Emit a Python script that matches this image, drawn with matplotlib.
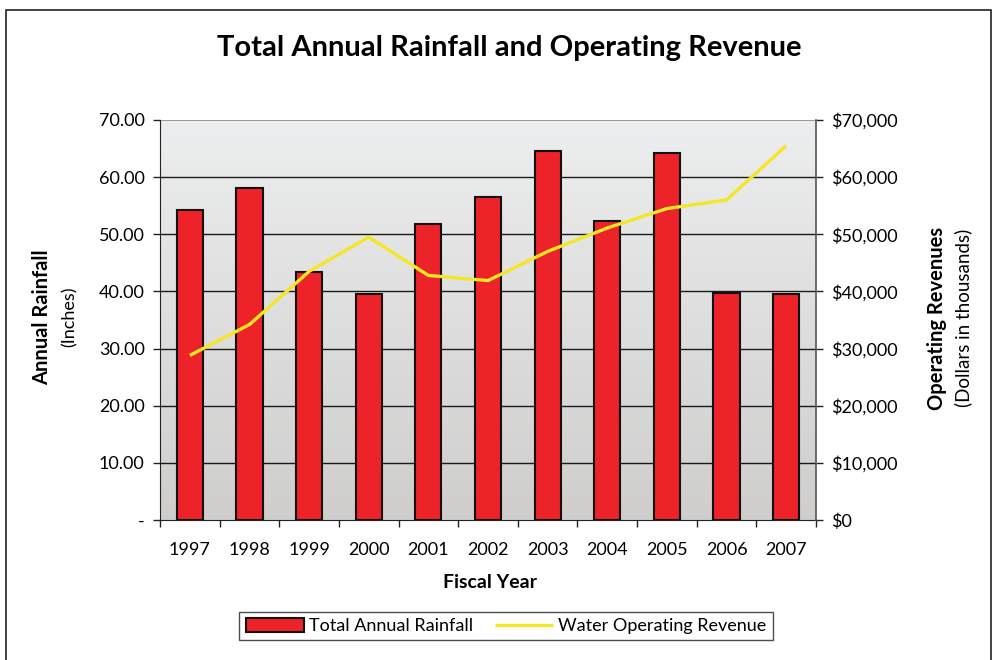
import matplotlib
matplotlib.use("Agg")
import matplotlib.pyplot as plt
from matplotlib.patches import Rectangle
from matplotlib.ticker import FuncFormatter
import numpy as np

plt.rcParams['font.family'] = ['Lato', 'DejaVu Sans']

years = ['1997', '1998', '1999', '2000', '2001', '2002', '2003', '2004', '2005', '2006', '2007']
rainfall = [54.2, 58.1, 43.4, 39.5, 51.8, 56.6, 64.6, 52.4, 64.3, 39.8, 39.5]
revenue = [28800, 34200, 43500, 49500, 42800, 41900, 47000, 51100, 54500, 56000, 65500]

fig = plt.figure(figsize=(9.97, 6.6), dpi=100)
W, H = 997, 660

# outer frame
fig.patches.append(Rectangle((6 / W, -0.05), (991 - 6) / W, (H - 10) / H + 0.05,
                             transform=fig.transFigure, fill=False,
                             edgecolor='#222222', linewidth=1.2))

ax = fig.add_axes([160 / W, (H - 520) / H, (816 - 160) / W, 400 / H])
ax.set_xlim(-0.5, len(years) - 0.5)
ax.set_ylim(0, 70)

# gradient plot background
grad = np.linspace(0, 1, 256).reshape(-1, 1)
ax.imshow(grad, aspect='auto', cmap=matplotlib.colors.LinearSegmentedColormap.from_list(
    'bg', ['#cfcecd', '#edeeef']), origin='lower',
    extent=(-0.5, len(years) - 0.5, 0, 70), zorder=0)

for v in range(10, 70, 10):
    ax.axhline(v, color='#1a1a1a', linewidth=1.0, zorder=1)
ax.axhline(70, color='#8c8c8c', linewidth=1.2, zorder=1)

x = np.arange(len(years))
bars = ax.bar(x, rainfall, width=0.44, color='#ee2229', edgecolor='#111111',
              linewidth=1.5, zorder=2, label='Total Annual Rainfall')

ax.set_yticks(range(0, 71, 10))
ax.yaxis.set_major_formatter(FuncFormatter(lambda v, p: '-' if v == 0 else f'{v:.2f}'))
ax.set_xticks(x)
ax.set_xticklabels(years)
ax.set_xticks(np.arange(-0.5, len(years), 1), minor=True)
ax.tick_params(axis='x', which='major', length=0, labelsize=13, pad=16)
ax.tick_params(axis='x', which='minor', length=5, width=1, color='#222222', direction='out')
ax.tick_params(axis='y', length=5, width=1, color='#222222', labelsize=13, pad=6)

ax.spines['top'].set_visible(False)
ax.spines['left'].set_color('#222222')
ax.spines['bottom'].set_color('#222222')
ax.spines['right'].set_visible(False)

ax2 = ax.twinx()
ax2.set_ylim(0, 70000)
line, = ax2.plot(x, revenue, color='#f6e628', linewidth=2.4, zorder=3,
                 label='Water Operating Revenue', solid_capstyle='butt')
ax2.set_yticks(range(0, 70001, 10000))
ax2.yaxis.set_major_formatter(FuncFormatter(lambda v, p: f'${v:,.0f}'))
ax2.tick_params(axis='y', length=5, width=1, color='#222222', labelsize=13, pad=6)
for s in ['top', 'left', 'bottom']:
    ax2.spines[s].set_visible(False)
ax2.spines['right'].set_color('#555555')
ax2.spines['right'].set_linewidth(1.2)

fig.text(509 / W, (H - 48) / H, 'Total Annual Rainfall and Operating Revenue',
         ha='center', va='center', fontsize=21, fontweight='bold')
fig.text(490 / W, (H - 582) / H, 'Fiscal Year', ha='center', va='center',
         fontsize=14, fontweight='bold')
fig.text(42 / W, (H - 317) / H, 'Annual Rainfall', ha='center', va='center',
         rotation=90, fontsize=14.5, fontweight='bold')
fig.text(70 / W, (H - 317) / H, '(Inches)', ha='center', va='center',
         rotation=90, fontsize=13)
fig.text(937 / W, (H - 318) / H, 'Operating Revenues', ha='center', va='center',
         rotation=90, fontsize=14.5, fontweight='bold')
fig.text(963 / W, (H - 318) / H, '(Dollars in thousands)', ha='center', va='center',
         rotation=90, fontsize=13.5)

leg = fig.legend([bars, line], ['Total Annual Rainfall', 'Water Operating Revenue'],
                 loc='center', bbox_to_anchor=(506 / W, (H - 626) / H), ncol=2,
                 fontsize=13, frameon=True, fancybox=False, edgecolor='#222222',
                 handlelength=3.2, handleheight=0.8, handletextpad=0.3,
                 columnspacing=1.2, borderpad=0.35)
leg.get_frame().set_linewidth(1.0)

fig.savefig('out.png', dpi=100)
